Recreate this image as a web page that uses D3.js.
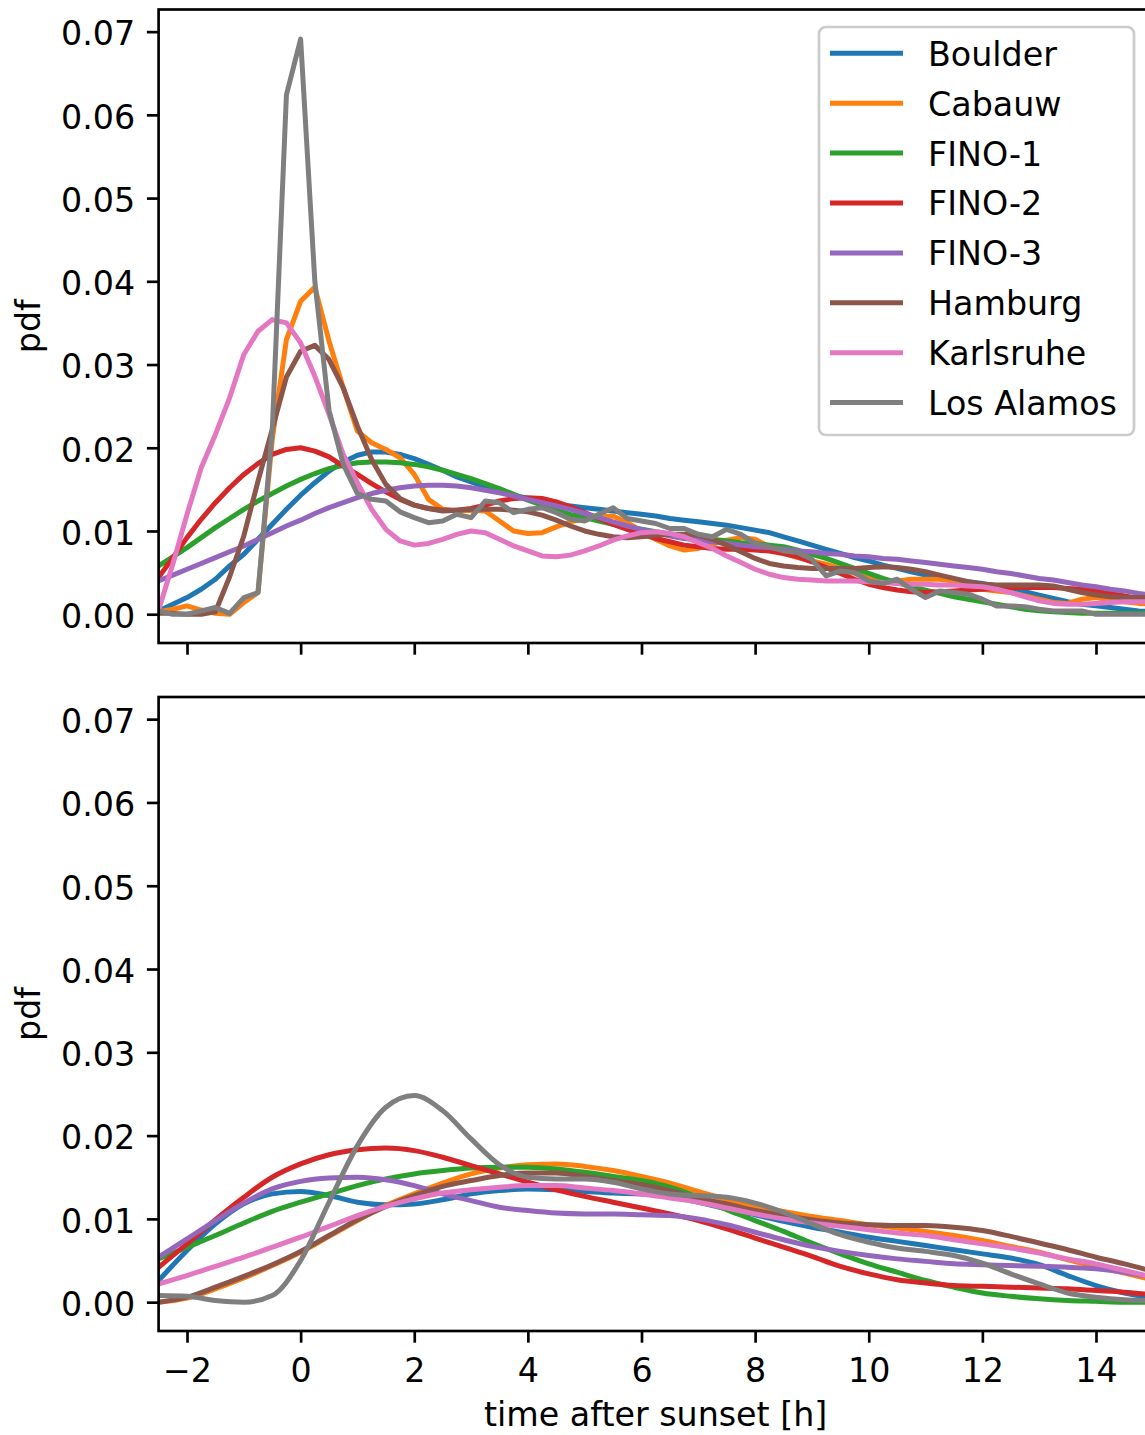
<!DOCTYPE html>
<html>
<head>
<meta charset="utf-8">
<script src="https://cdn.jsdelivr.net/npm/d3@7"></script>
<style>
  body { margin: 0; background: #fff; }
  text { font-family: "DejaVu Sans", sans-serif; }
</style>
</head>
<body>
<script>
// Sites, in legend order
var sites = ["Boulder", "Cabauw", "FINO-1", "FINO-2", "FINO-3", "Hamburg", "Karlsruhe", "Los Alamos"];
var colors = ["#1f77b4", "#ff7f0e", "#2ca02c", "#d62728", "#9467bd", "#8c564b", "#e377c2", "#7f7f7f"];

// Hours after sunset (x grids)
var hoursFine = [-2.5, -2.25, -2, -1.75, -1.5, -1.25, -1, -0.75, -0.5, -0.25,
  0, 0.25, 0.5, 0.75, 1, 1.25, 1.5, 1.75, 2, 2.25,
  2.5, 2.75, 3, 3.25, 3.5, 3.75, 4, 4.25, 4.5, 4.75,
  5, 5.25, 5.5, 5.75, 6, 6.25, 6.5, 6.75, 7, 7.25,
  7.5, 7.75, 8, 8.25, 8.5, 8.75, 9, 9.25, 9.5, 9.75,
  10, 10.25, 10.5, 10.75, 11, 11.25, 11.5, 11.75, 12, 12.25,
  12.5, 12.75, 13, 13.25, 13.5, 13.75, 14, 14.25, 14.5, 14.75,
  15];
var hoursCoarse = [-2.5, -2, -1.5, -1, -0.5, 0, 0.5, 1, 1.5, 2, 2.5, 3, 3.5, 4, 4.5, 5, 5.5, 6,
  6.5, 7, 7.5, 8, 8.5, 9, 9.5, 10, 10.5, 11, 11.5, 12, 12.5, 13, 13.5, 14, 14.5, 15];

// pdf values, in units of 1e-3, top panel (on hoursFine)
var boulderTop = [0.4, 1.2, 2.0, 3.0, 4.2, 5.8, 7.2, 9.0, 10.8, 12.6,
  14.3, 15.8, 17.2, 18.3, 19.1, 19.5, 19.5, 19.2, 18.7, 18.0,
  17.3, 16.5, 15.9, 15.3, 14.8, 14.3, 13.9, 13.5, 13.2, 13.0,
  12.8, 12.6, 12.4, 12.2, 12.0, 11.8, 11.5, 11.3, 11.1, 10.9,
  10.7, 10.4, 10.1, 9.8, 9.3, 8.8, 8.3, 7.8, 7.3, 6.8,
  6.4, 5.9, 5.5, 5.1, 4.7, 4.4, 4.1, 3.9, 3.7, 3.4,
  3.1, 2.7, 2.3, 1.9, 1.5, 1.2, 1.0, 0.8, 0.6, 0.4,
  0.3];
var cabauwTop = [0.3, 0.6, 1.0, 0.5, 0.1, 0.0, 1.4, 2.6, 21.0, 33.0,
  37.6, 39.3, 32.8, 27.2, 22.0, 20.6, 19.8, 18.8, 16.8, 13.8,
  12.6, 12.4, 12.5, 12.4, 11.2, 10.0, 9.7, 9.8, 10.5, 11.1,
  11.5, 11.7, 11.8, 11.0, 10.0, 9.0, 8.2, 7.7, 7.9, 8.4,
  8.9, 9.2, 9.0, 8.1, 7.3, 6.8, 6.4, 6.0, 5.5, 4.9,
  4.3, 3.8, 4.0, 4.2, 4.2, 4.2, 4.0, 3.5, 3.0, 2.8,
  2.6, 2.2, 1.8, 1.4, 1.3, 1.8, 2.0, 1.7, 1.5, 1.3,
  1.2];
var fino1Top = [5.8, 6.9, 8.0, 9.2, 10.4, 11.5, 12.6, 13.6, 14.5, 15.4,
  16.2, 16.9, 17.5, 17.9, 18.2, 18.3, 18.3, 18.2, 18.0, 17.7,
  17.3, 16.8, 16.3, 15.7, 15.1, 14.4, 13.7, 13.1, 12.5, 12.0,
  11.6, 11.2, 10.8, 10.5, 10.2, 9.9, 9.6, 9.4, 9.2, 9.0,
  8.8, 8.6, 8.5, 8.3, 8.1, 7.7, 7.2, 6.7, 6.1, 5.5,
  4.9, 4.3, 3.8, 3.3, 2.9, 2.5, 2.1, 1.8, 1.5, 1.2,
  0.9, 0.6, 0.4, 0.3, 0.2, 0.1, 0.1, 0.1, 0.1, 0.1,
  0.1];
var fino2Top = [4.4, 6.8, 9.2, 11.4, 13.4, 15.2, 16.8, 18.1, 19.2, 19.8,
  20.0, 19.6, 18.9, 17.8, 16.8, 15.7, 14.7, 13.8, 13.1, 12.7,
  12.5, 12.5, 12.7, 13.1, 13.6, 13.9, 14.0, 13.9, 13.5, 12.9,
  12.2, 11.5, 10.8, 10.2, 9.6, 9.1, 8.7, 8.3, 8.1, 7.9,
  7.8, 7.8, 7.7, 7.6, 7.3, 6.9, 6.3, 5.6, 4.9, 4.2,
  3.6, 3.2, 2.9, 2.7, 2.6, 2.7, 2.8, 2.9, 3.0, 3.1,
  3.2, 3.2, 3.2, 3.2, 3.1, 3.0, 2.8, 2.5, 2.2, 1.9,
  1.6];
var fino3Top = [4.0, 4.7, 5.4, 6.1, 6.8, 7.5, 8.2, 9.0, 9.8, 10.6,
  11.3, 12.1, 12.8, 13.4, 14.0, 14.5, 14.9, 15.2, 15.4, 15.5,
  15.5, 15.4, 15.2, 14.9, 14.6, 14.2, 13.8, 13.4, 13.0, 12.6,
  12.1, 11.6, 11.1, 10.6, 10.2, 9.8, 9.4, 9.1, 8.9, 8.7,
  8.5, 8.3, 8.1, 8.0, 7.8, 7.6, 7.5, 7.3, 7.2, 7.0,
  6.9, 6.7, 6.6, 6.4, 6.2, 6.0, 5.8, 5.6, 5.4, 5.1,
  4.9, 4.6, 4.3, 4.1, 3.8, 3.5, 3.3, 3.0, 2.8, 2.5,
  2.3];
var hamburgTop = [0.1, 0.1, 0.0, 0.0, 0.3, 4.5, 9.4, 16.0, 22.2, 28.5,
  31.6, 32.3, 30.6, 27.2, 22.6, 18.6, 15.6, 13.9, 13.1, 12.7,
  12.4, 12.5, 12.6, 12.6, 12.6, 12.5, 12.3, 11.9, 11.3, 10.6,
  10.0, 9.6, 9.3, 9.2, 9.3, 9.5, 9.6, 9.6, 9.5, 9.0,
  8.3, 7.5, 6.7, 6.1, 5.8, 5.6, 5.5, 5.5, 5.5, 5.5,
  5.6, 5.7, 5.6, 5.4, 5.1, 4.7, 4.3, 3.9, 3.6, 3.5,
  3.5, 3.5, 3.5, 3.4, 3.0, 2.6, 2.3, 2.1, 2.0, 2.0,
  2.0];
var karlsruheTop = [0.5, 6.0, 12.0, 17.6, 21.6, 26.0, 31.2, 34.0, 35.4, 35.0,
  32.6, 28.6, 24.0, 19.2, 15.8, 12.6, 10.2, 8.8, 8.3, 8.5,
  9.0, 9.6, 10.0, 9.8, 9.0, 8.2, 7.6, 7.0, 6.9, 7.1,
  7.6, 8.2, 8.9, 9.4, 9.8, 9.9, 9.7, 9.3, 8.6, 7.9,
  7.0, 6.2, 5.4, 4.8, 4.4, 4.2, 4.1, 4.0, 4.0, 4.0,
  3.9, 3.8, 3.7, 3.6, 3.6, 3.5, 3.5, 3.4, 3.3, 3.0,
  2.6, 2.1, 1.6, 1.3, 1.2, 1.2, 1.3, 1.4, 1.5, 1.5,
  1.5];
var losAlamosTop = [0.4, 0.0, 0.0, 0.4, 0.8, 0.1, 2.0, 2.6, 22.0, 62.4,
  69.1, 40.0, 24.5, 18.0, 14.5, 13.8, 13.6, 12.3, 11.6, 11.0,
  11.2, 12.0, 11.6, 13.6, 13.4, 12.2, 12.6, 12.8, 12.2, 11.4,
  11.2, 12.0, 12.8, 11.5, 11.2, 10.9, 10.3, 10.3, 9.6, 9.3,
  10.2, 9.6, 8.5, 8.1, 7.6, 7.4, 6.6, 4.6, 5.2, 5.0,
  4.0, 3.7, 4.2, 3.0, 2.0, 2.8, 2.6, 2.4, 1.8, 1.0,
  1.0, 0.9, 0.6, 0.4, 0.4, 0.4, 0.0, 0.0, 0.0, 0.0,
  0.0];

// pdf values, in units of 1e-3, bottom panel (on hoursCoarse)
var boulderBottom = [2.6, 6.2, 9.4, 11.8, 13.0, 13.3, 12.8, 12.0, 11.7, 11.8, 12.3, 13.0, 13.4, 13.6, 13.5, 13.3, 13.1, 13.0,
  12.7, 12.0, 11.2, 10.5, 9.7, 9.0, 8.4, 7.8, 7.3, 6.8, 6.3, 5.8, 5.3, 4.5, 3.2, 2.0, 1.1, 0.5];
var cabauwBottom = [0.0, 0.5, 1.6, 2.9, 4.4, 6.0, 7.9, 9.8, 11.6, 13.0, 14.3, 15.4, 16.1, 16.5, 16.6, 16.3, 15.8, 15.1,
  14.3, 13.3, 12.3, 11.5, 10.9, 10.3, 9.8, 9.3, 8.9, 8.5, 8.0, 7.4, 6.7, 6.0, 5.1, 4.3, 3.5, 2.7];
var fino1Bottom = [5.2, 6.6, 8.0, 9.5, 10.9, 12.0, 13.0, 14.0, 14.8, 15.4, 15.8, 16.1, 16.2, 16.2, 16.0, 15.6, 15.1, 14.6,
  13.8, 12.6, 11.1, 9.8, 8.5, 7.1, 5.8, 4.6, 3.6, 2.6, 1.8, 1.1, 0.7, 0.4, 0.2, 0.1, 0.0, 0.0];
var fino2Bottom = [4.2, 7.0, 9.9, 12.6, 15.0, 16.6, 17.7, 18.3, 18.5, 18.2, 17.4, 16.4, 15.4, 14.4, 13.5, 12.7, 12.0, 11.3,
  10.6, 9.8, 8.8, 7.7, 6.6, 5.5, 4.3, 3.4, 2.7, 2.3, 2.0, 1.9, 1.8, 1.7, 1.6, 1.4, 1.2, 0.9];
var fino3Bottom = [5.4, 7.6, 9.8, 11.9, 13.6, 14.5, 14.9, 15.0, 14.7, 14.0, 13.0, 12.2, 11.4, 11.0, 10.7, 10.6, 10.6, 10.5,
  10.4, 10.0, 9.3, 8.4, 7.5, 6.7, 6.1, 5.6, 5.2, 4.9, 4.6, 4.5, 4.4, 4.3, 4.2, 4.0, 3.6, 3.0];
var hamburgBottom = [0.0, 0.6, 1.8, 3.1, 4.5, 6.1, 8.0, 9.9, 11.5, 12.8, 13.9, 14.6, 15.2, 15.5, 15.5, 15.1, 14.6, 14.1,
  13.4, 12.5, 11.8, 11.0, 10.4, 9.9, 9.5, 9.3, 9.2, 9.2, 9.0, 8.6, 7.9, 7.1, 6.3, 5.4, 4.6, 3.7];
var karlsruheBottom = [2.2, 3.2, 4.3, 5.4, 6.6, 7.8, 9.1, 10.4, 11.5, 12.4, 13.1, 13.5, 13.8, 14.0, 14.0, 13.7, 13.4, 13.0,
  12.5, 12.0, 11.3, 10.6, 10.0, 9.5, 9.1, 8.7, 8.3, 8.0, 7.5, 7.0, 6.5, 5.9, 5.2, 4.6, 3.8, 3.0];
var losAlamosBottom = [0.8, 0.7, 0.2, 0.0, 0.8, 5.0, 12.0, 18.8, 23.4, 24.8, 23.0, 19.6, 16.5, 15.0, 14.8, 14.8, 14.4, 13.6,
  13.0, 12.8, 12.6, 11.9, 10.8, 9.4, 8.1, 7.2, 6.5, 6.1, 5.6, 4.7, 3.4, 2.2, 1.1, 0.6, 0.3, 0.2];

var yTicks = [0, 10, 20, 30, 40, 50, 60, 70];
var xTicks = [-2, 0, 2, 4, 6, 8, 10, 12, 14];

// Sizes (matplotlib at ~240 dpi)
var fs = 33.3, tickLen = 11.7, tickPad = 11.7, lw = 5, spineW = 2.67;
var left = 158.6, right = 1152.8;

var panels = [
  { top: 9.5, bottom: 643, hours: hoursFine, curve: d3.curveLinear, labels: false,
    values: [boulderTop, cabauwTop, fino1Top, fino2Top, fino3Top, hamburgTop, karlsruheTop, losAlamosTop] },
  { top: 697, bottom: 1331, hours: hoursCoarse, curve: d3.curveMonotoneX, labels: true,
    values: [boulderBottom, cabauwBottom, fino1Bottom, fino2Bottom, fino3Bottom, hamburgBottom, karlsruheBottom, losAlamosBottom] }
];

var svg = d3.select("body").append("svg")
    .attr("width", 1145)
    .attr("height", 1435);

var x = d3.scaleLinear().domain([-2.5, 15]).range([left, right]);

panels.forEach(function(p, pi) {
  var y = d3.scaleLinear().domain([-3.46, 72.66]).range([p.bottom, p.top]);
  var g = svg.append("g");

  g.append("clipPath").attr("id", "clip" + pi)
    .append("rect")
      .attr("x", left).attr("y", p.top)
      .attr("width", right - left).attr("height", p.bottom - p.top);

  // Lines
  var line = d3.line()
      .x(function(d, i) { return x(p.hours[i]); })
      .y(function(d) { return y(d); })
      .curve(p.curve);

  g.append("g").attr("clip-path", "url(#clip" + pi + ")")
    .selectAll("path")
    .data(p.values)
    .join("path")
      .attr("d", function(d) { return line(d); })
      .attr("fill", "none")
      .attr("stroke", function(d, i) { return colors[i]; })
      .attr("stroke-width", lw)
      .attr("stroke-linejoin", "round")
      .attr("stroke-linecap", "square");

  // Y axis
  var yAxis = d3.axisLeft(y).tickValues(yTicks).tickSize(tickLen).tickPadding(tickPad)
      .tickFormat(function(d) { return (d / 1000).toFixed(2); });
  var ya = g.append("g").attr("transform", "translate(" + left + ",0)").call(yAxis);
  ya.select(".domain").remove();
  ya.selectAll("line").attr("stroke-width", spineW);
  ya.selectAll("text").attr("font-size", fs).attr("font-family", "DejaVu Sans").attr("dy", "0.40em").attr("fill", "#000");

  // X axis
  var xAxis = d3.axisBottom(x).tickValues(xTicks).tickSize(tickLen).tickPadding(tickPad)
      .tickFormat(function(d) { return p.labels ? (d < 0 ? "\u2212" + Math.abs(d) : String(d)) : ""; });
  var xa = g.append("g").attr("transform", "translate(0," + p.bottom + ")").call(xAxis);
  xa.select(".domain").remove();
  xa.selectAll("line").attr("stroke-width", spineW);
  xa.selectAll("text").attr("font-size", fs).attr("font-family", "DejaVu Sans").attr("dy", "0.83em").attr("fill", "#000");

  // Spines
  g.append("rect")
    .attr("x", left).attr("y", p.top)
    .attr("width", right - left).attr("height", p.bottom - p.top)
    .attr("fill", "none").attr("stroke", "#000").attr("stroke-width", spineW);

  // Y label
  g.append("text")
    .attr("transform", "translate(40," + ((p.top + p.bottom) / 2) + ") rotate(-90)")
    .attr("text-anchor", "middle")
    .attr("font-size", fs)
    .text("pdf");

  if (p.labels) {
    g.append("text")
      .attr("x", (left + right) / 2).attr("y", 1426)
      .attr("text-anchor", "middle")
      .attr("font-size", fs)
      .text("time after sunset [h]");
  }
});

// Legend in the top panel
var legend = svg.append("g");
legend.append("rect")
  .attr("x", 819).attr("y", 27).attr("width", 315).attr("height", 408)
  .attr("rx", 6.7).attr("ry", 6.7)
  .attr("fill", "#fff").attr("fill-opacity", 0.8)
  .attr("stroke", "#cccccc").attr("stroke-width", 2.7);

var rows = legend.selectAll("g.row").data(sites).join("g")
    .attr("class", "row")
    .attr("transform", function(d, i) { return "translate(0," + (53.3 + i * 49.9) + ")"; });
rows.append("line")
  .attr("x1", 830).attr("x2", 903)
  .attr("stroke", function(d, i) { return colors[i]; })
  .attr("stroke-width", lw);
rows.append("text")
  .attr("x", 928).attr("y", 12.4)
  .attr("font-size", fs)
  .text(function(d) { return d; });
</script>
</body>
</html>
